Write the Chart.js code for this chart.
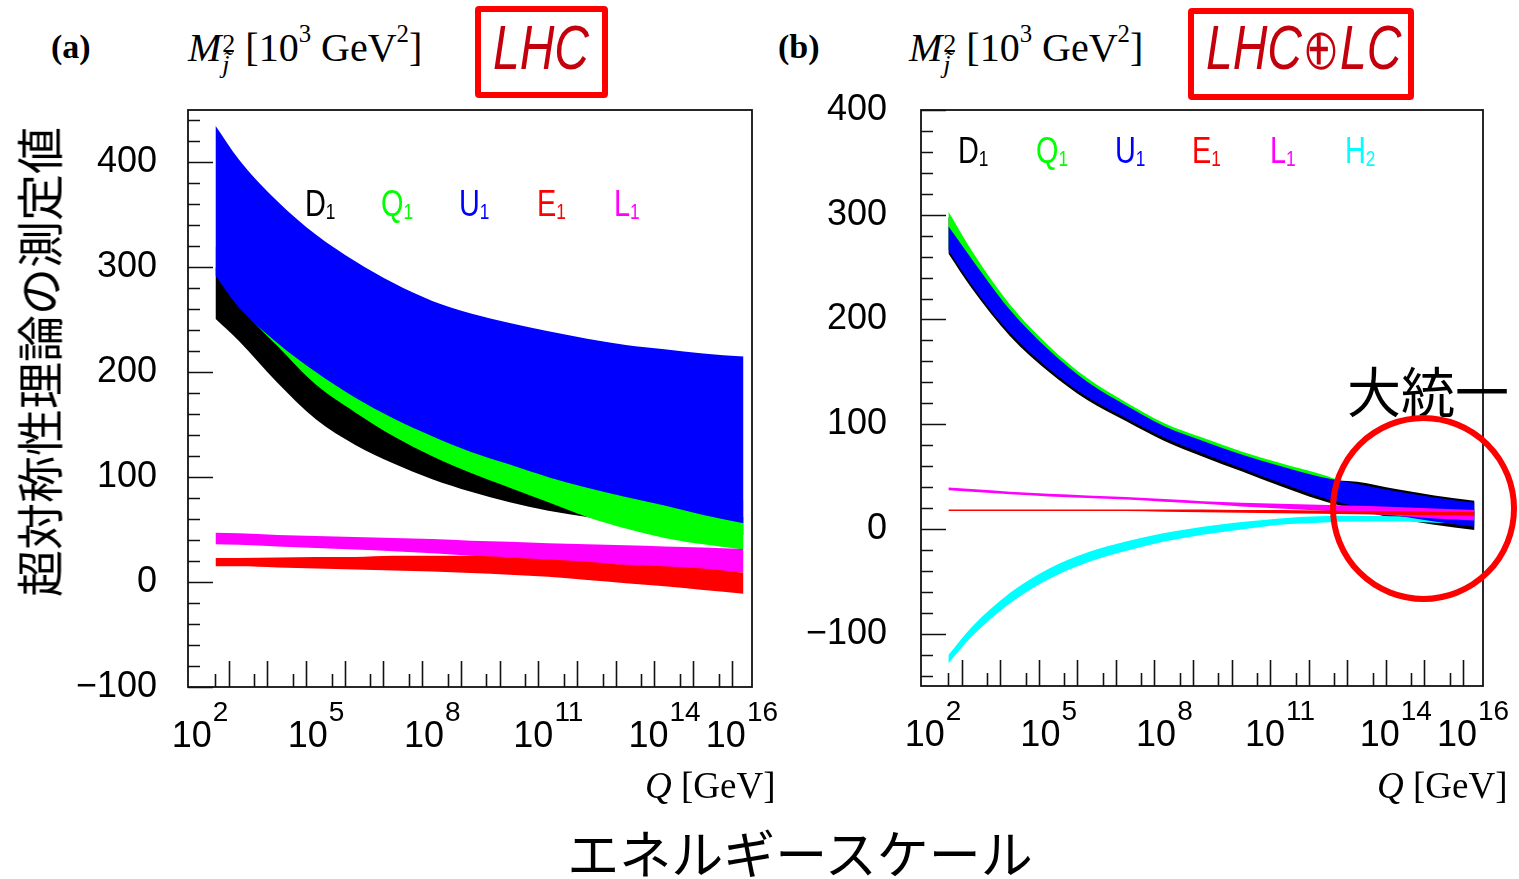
<!DOCTYPE html>
<html lang="ja">
<head>
<meta charset="utf-8">
<title>Sfermion mass running: LHC vs LHC+LC</title>
<script src="https://cdn.jsdelivr.net/npm/chart.js@4.4.1/dist/chart.umd.min.js"></script>
<style>
  html, body { margin: 0; padding: 0; background: #fff; }
  #page { position: relative; width: 1519px; height: 879px; overflow: hidden; background: #fff; }
  canvas { position: absolute; }
  #cvA { left: 30px; top: 90px; }
  #cvB { left: 780px; top: 90px; }
  .t { position: absolute; white-space: nowrap; line-height: 1; color: #000; }
  .serif { font-family: 'Liberation Serif', 'DejaVu Serif', serif; }
  .tag { font-size: 34px; font-weight: bold; }
  .mlabel { font-size: 40px; }
  .stack { display: inline-block; vertical-align: -12px; font-size: 26px; line-height: 0.82; margin-left: 1px; }
  .sup { font-size: 0.62em; position: relative; top: -0.75em; }
  .qlabel { font-size: 37px; }
  .box { position: absolute; border: 6px solid #f00; border-radius: 4px; box-sizing: border-box; }
  .hand { position: absolute; white-space: nowrap; line-height: 1; font-family: 'Liberation Sans', sans-serif; font-style: italic; font-size: 48px; color: #c4000c; transform: scaleY(1.3); transform-origin: left top; }
  .leg { position: absolute; white-space: nowrap; font-family: 'Liberation Sans', sans-serif; font-size: 37px; line-height: 1; transform: scaleX(0.78); transform-origin: left top; }
  .leg sub { font-size: 0.6em; vertical-align: -0.15em; }
  .jp { position: absolute; font-family: 'Noto Sans CJK JP', sans-serif; white-space: nowrap; line-height: 1; color: #000; }
  #circle { position: absolute; left: 1330px; top: 415px; width: 187px; height: 187px; border: 6px solid #f00; border-radius: 50%; box-sizing: border-box; }
</style>
</head>
<body>
<div id="page">
  <canvas id="cvA" width="750" height="680"></canvas>
  <canvas id="cvB" width="739" height="680"></canvas>

  <div class="t serif tag" style="left:51px;top:30px">(a)</div>
  <div class="t serif mlabel" style="left:188px;top:28px"><i>M</i><span class="stack">2<br><i>j&#771;</i></span> [10<span class="sup">3</span> GeV<span class="sup">2</span>]</div>
  <div class="box" style="left:475px;top:6px;width:133px;height:92px"></div>
  <div class="hand" style="left:493px;top:17px">LHC</div>

  <div class="t serif tag" style="left:778px;top:30px">(b)</div>
  <div class="t serif mlabel" style="left:909px;top:28px"><i>M</i><span class="stack">2<br><i>j&#771;</i></span> [10<span class="sup">3</span> GeV<span class="sup">2</span>]</div>
  <div class="box" style="left:1188px;top:8px;width:226px;height:92px"></div>
  <div class="hand" style="left:1206px;top:17px">LHC<span style="font-style:normal">&#8853;</span>LC</div>

  <div class="leg" style="left:305px;top:185px;color:#000">D<sub>1</sub></div>
  <div class="leg" style="left:381px;top:185px;color:#00ff00">Q<sub>1</sub></div>
  <div class="leg" style="left:459px;top:185px;color:#0000ff">U<sub>1</sub></div>
  <div class="leg" style="left:537px;top:185px;color:#ff0000">E<sub>1</sub></div>
  <div class="leg" style="left:614px;top:185px;color:#ff00ff">L<sub>1</sub></div>

  <div class="leg" style="left:958px;top:132px;color:#000">D<sub>1</sub></div>
  <div class="leg" style="left:1036px;top:132px;color:#00ff00">Q<sub>1</sub></div>
  <div class="leg" style="left:1115px;top:132px;color:#0000ff">U<sub>1</sub></div>
  <div class="leg" style="left:1192px;top:132px;color:#ff0000">E<sub>1</sub></div>
  <div class="leg" style="left:1270px;top:132px;color:#ff00ff">L<sub>1</sub></div>
  <div class="leg" style="left:1345px;top:132px;color:#00ffff">H<sub>2</sub></div>

  <div class="t serif qlabel" style="left:645px;top:767px"><i>Q</i> [GeV]</div>
  <div class="t serif qlabel" style="left:1377px;top:767px"><i>Q</i> [GeV]</div>

  <div class="jp" style="left:37px;top:362px;font-size:47px;transform:translate(-50%,-50%) rotate(-90deg)">超対称性理論の測定値</div>
  <div class="jp" style="left:800px;top:852px;font-size:52px;transform:translate(-50%,-50%)">エネルギースケール</div>
  <div class="jp" style="left:1347px;top:363px;font-size:54px">大統一</div>
  <div id="circle"></div>
</div>

<script>
// Scale Q in GeV, as log10(Q)
const logQ = [2.4, 3, 4, 5, 6, 7, 8, 9, 10, 11, 12, 13, 14, 15, 16.04];

// (a) LHC alone: band edges of M^2 in 10^3 GeV^2
const lhcD1Max = [300, 275, 240, 205, 178, 157, 139, 124, 111, 100, 90, 82, 75, 68, 62];
const lhcD1Min = [251, 230, 190, 155, 131, 113, 98, 86, 76, 68, 62, 57, 52, 48, 45];
const lhcQ1Max = [320, 290, 255, 225, 200, 178, 160, 145, 132, 120, 110, 100, 92, 84, 78];
const lhcQ1Min = [296, 264, 225, 188, 162, 139, 120, 104, 90, 76, 62, 51, 42, 36, 31];
const lhcU1Max = [435, 403, 363, 331, 306, 285, 268, 256, 247, 239, 232, 226, 222, 218, 215];
const lhcU1Min = [292, 262, 228, 200, 176, 156, 139, 124, 112, 100, 90, 81, 73, 64, 56];
const lhcE1Max = [23, 23, 23.5, 24, 24, 25, 25, 25, 23.5, 21.5, 19.5, 16.5, 15, 13, 9];
const lhcE1Min = [15, 15, 14, 13, 12, 11, 10, 8.6, 7, 5, 2, -1, -4, -7.5, -11];
const lhcL1Max = [47, 46.5, 45, 44, 43, 42, 41, 39.5, 38.5, 37, 36, 35, 34, 33, 31.5];
const lhcL1Min = [36, 35.5, 34, 32.5, 31, 29.5, 27.5, 25, 23, 21, 18.5, 16, 14, 11.5, 9];

// (b) LHC + LC combined
const combD1Max = [298, 261, 209, 170, 139, 116, 96, 82, 69, 58, 48, 45, 38, 32, 27];
const combD1Min = [263, 230, 184, 150, 123, 103, 84, 69, 55, 41, 28, 18, 10, 4, -1];
const combQ1Max = [303, 266, 214, 175, 144, 121, 101, 87, 74, 63, 53, 41, 33, 26, 20];
const combQ1Min = [269, 236, 190, 156, 129, 109, 90, 75, 61, 47, 34, 24, 16, 10, 5];
const combU1Max = [289, 258, 209, 171, 140.5, 118, 98, 84, 71, 60, 50, 43, 36, 30, 25];
const combU1Min = [266, 233, 187, 153, 126, 106, 87, 72, 58, 44, 31, 21, 13, 7, 2];
const combE1Max = [18.5, 18.5, 18.5, 18.5, 18.5, 18.5, 18.5, 18.5, 18, 18, 17.5, 17, 17, 16.5, 16.5];
const combE1Min = [17, 17, 17, 17, 17, 17, 16.5, 16, 15.5, 15, 14.5, 14, 13.5, 13, 12.5];
const combL1Max = [39.5, 38, 35.5, 33.5, 32, 30.5, 28.5, 26.5, 25, 24, 23, 22, 21, 19.5, 18];
const combL1Min = [37, 35.5, 33, 31, 29.5, 28, 26, 24, 21.5, 19.5, 17.5, 15, 12.5, 10, 8];
const combH2Max = [-120.5, -94, -61, -38, -22.5, -12, -4, 2, 6.5, 10, 12, 12.5, 12, 11, 10];
const combH2Min = [-128.5, -103, -71, -48, -32, -21, -12, -5.5, -0.5, 4, 6, 7, 7, 6, 5];

// Axis ticks and labels
const xLabelExponents = [2, 5, 8, 11, 14, 16];
const xMajorTicks = [2.74, 3.74, 4.74, 5.74, 6.74, 7.74, 8.74, 9.74, 10.74, 11.74, 12.74, 13.74, 14.74, 15.74];
const xMinorTicks = [2.4, 3.4, 4.4, 5.4, 6.4, 7.4, 8.4, 9.4, 10.4, 11.4, 12.4, 13.4, 14.4, 15.4];
const yLabelsA = [-100, 0, 100, 200, 300, 400];
const yLabelsB = [-100, 0, 100, 200, 300, 400];

const COLORS = { D1: '#000000', Q1: '#00ff00', U1: '#0000ff', E1: '#ff0000', L1: '#ff00ff', H2: '#00ffff' };

// Bands listed bottom layer first
const bandsA = [
  { key: 'D1', hi: lhcD1Max, lo: lhcD1Min },
  { key: 'Q1', hi: lhcQ1Max, lo: lhcQ1Min },
  { key: 'U1', hi: lhcU1Max, lo: lhcU1Min },
  { key: 'L1', hi: lhcL1Max, lo: lhcL1Min },
  { key: 'E1', hi: lhcE1Max, lo: lhcE1Min }
];
const bandsB = [
  { key: 'D1', hi: combD1Max, lo: combD1Min },
  { key: 'Q1', hi: combQ1Max, lo: combQ1Min },
  { key: 'H2', hi: combH2Max, lo: combH2Min },
  { key: 'U1', hi: combU1Max, lo: combU1Min },
  { key: 'L1', hi: combL1Max, lo: combL1Min },
  { key: 'E1', hi: combE1Max, lo: combE1Min }
];

const pts = arr => logQ.map((q, i) => ({ x: q, y: arr[i] }));

function bandDatasets(bands) {
  const out = [];
  bands.forEach((b, i) => {
    const order = 100 - i * 10;
    const common = {
      borderWidth: 0, borderColor: 'rgba(0,0,0,0)', pointRadius: 0,
      cubicInterpolationMode: 'monotone', order
    };
    out.push(Object.assign({ label: b.key + ' max', data: pts(b.hi), fill: out.length + 1, backgroundColor: COLORS[b.key] }, common));
    out.push(Object.assign({ label: b.key + ' min', data: pts(b.lo), fill: false, backgroundColor: COLORS[b.key] }, common));
  });
  return out;
}

// Frame, inward tick marks and 10^n labels
const frameTicks = {
  id: 'frameTicks',
  afterDatasetsDraw(chart) {
    const { ctx, chartArea: a, scales: { x, y } } = chart;
    ctx.save();
    ctx.strokeStyle = '#111';
    ctx.lineWidth = 1.6;
    ctx.beginPath();
    const yStart = Math.ceil(y.min / 20) * 20;
    for (let v = yStart; v <= y.max; v += 20) {
      const py = Math.round(y.getPixelForValue(v)) + 0.5;
      const len = (v % 100 === 0) ? 25 : 12;
      ctx.moveTo(a.left, py); ctx.lineTo(a.left + len, py);
    }
    xMajorTicks.forEach(v => { const px = Math.round(x.getPixelForValue(v)) + 0.5; ctx.moveTo(px, a.bottom); ctx.lineTo(px, a.bottom - 26); });
    xMinorTicks.forEach(v => { const px = Math.round(x.getPixelForValue(v)) + 0.5; ctx.moveTo(px, a.bottom); ctx.lineTo(px, a.bottom - 13); });
    ctx.stroke();
    ctx.lineWidth = 1.8;
    ctx.strokeRect(a.left, a.top, a.right - a.left, a.bottom - a.top);

    ctx.fillStyle = '#000';
    ctx.textBaseline = 'alphabetic';
    ctx.textAlign = 'left';
    xLabelExponents.forEach(e => {
      const px = x.getPixelForValue(e);
      ctx.font = '36px "Liberation Sans"';
      const wb = ctx.measureText('10').width;
      ctx.font = '28px "Liberation Sans"';
      const ws = ctx.measureText(String(e)).width;
      const x0 = px - (wb + ws + 1) / 2;
      ctx.font = '36px "Liberation Sans"';
      ctx.fillText('10', x0, a.bottom + 60);
      ctx.font = '28px "Liberation Sans"';
      ctx.fillText(String(e), x0 + wb + 1, a.bottom + 34);
    });
    ctx.restore();
  }
};

Chart.defaults.font.family = "'Liberation Sans', sans-serif";

function makePanel(id, bands, yMin, yMax, yLabels, axisWidth, labelPad, padRight, padBottom) {
  return new Chart(document.getElementById(id), {
    type: 'line',
    data: { datasets: bandDatasets(bands) },
    options: {
      responsive: false,
      animation: false,
      events: [],
      layout: { padding: { left: 0, top: 20, right: padRight, bottom: padBottom } },
      plugins: { legend: { display: false }, tooltip: { enabled: false }, filler: { propagate: false } },
      scales: {
        x: { type: 'linear', min: 1.69, max: 16.26, display: false },
        y: {
          type: 'linear', min: yMin, max: yMax,
          afterFit: s => { s.width = axisWidth; s.paddingTop = 0; s.paddingBottom = 0; },
          afterBuildTicks: s => { s.ticks = yLabels.map(v => ({ value: v })); },
          grid: { display: false, drawTicks: false },
          border: { display: false },
          ticks: {
            padding: labelPad, color: '#000',
            font: { size: 36, family: "'Liberation Sans', sans-serif" },
            callback: v => (v < 0 ? '\u2212' + Math.abs(v) : String(v))
          }
        }
      }
    },
    plugins: [frameTicks]
  });
}

makePanel('cvA', bandsA, -100, 450, yLabelsA, 158, 31, 28, 83);
makePanel('cvB', bandsB, -150, 400, yLabelsB, 141, 34, 36, 84);
</script>
</body>
</html>
